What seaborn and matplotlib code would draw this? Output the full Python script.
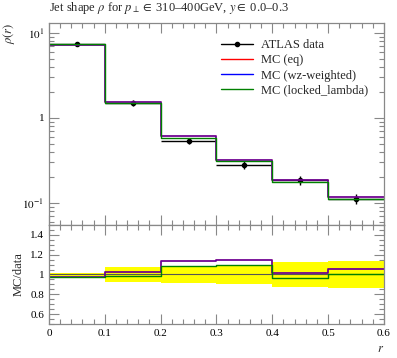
import numpy as np
import pandas as pd
import seaborn as sns
import matplotlib.pyplot as plt
from matplotlib.lines import Line2D
from matplotlib.ticker import MultipleLocator, FixedLocator, FixedFormatter, LogLocator, NullFormatter

sns.set_theme(style='ticks')
plt.rcParams['font.family'] = ['Liberation Serif', 'DejaVu Serif']
plt.rcParams['mathtext.fontset'] = 'stix'

# bins in r
edges = [0.0, 0.1, 0.2, 0.3, 0.4, 0.5, 0.6]
data_rho = [7.5, 1.51, 0.54, 0.28, 0.185, 0.112]
data_relerr = [0.02, 0.078, 0.09, 0.098, 0.128, 0.135]
ratio_eq = [0.973, 1.03, 1.135, 1.15, 1.017, 1.058]
ratio_wz = [0.973, 1.03, 1.135, 1.15, 1.017, 1.058]
ratio_locked = [0.978, 0.98, 1.09, 1.10, 0.966, 1.0]

series = [('MC (eq)', ratio_eq, 'red', 1.1, 1.0),
          ('MC (wz-weighted)', ratio_wz, 'blue', 1.1, 0.65),
          ('MC (locked_lambda)', ratio_locked, 'green', 1.0, 1.0)]

edges = np.array(edges)
centers = 0.5 * (edges[:-1] + edges[1:])
data_rho = np.array(data_rho)
data_relerr = np.array(data_relerr)

fig = plt.figure(figsize=(3.97, 3.58), dpi=100)
ax = fig.add_axes([0.1234, 0.3715, 0.8438, 0.5643])
rax = fig.add_axes([0.1234, 0.095, 0.8438, 0.2765], sharex=ax)

# ratio band from data uncertainty
lo = np.append(1 - data_relerr, 1 - data_relerr[-1])
hi = np.append(1 + data_relerr, 1 + data_relerr[-1])
rax.fill_between(edges, lo, hi, step='post', color='yellow', lw=0)
rax.axhline(1.0, color='#555555', lw=0.8)

for name, ratio, col, lw, alpha in series:
    vals = data_rho * np.array(ratio)
    df = pd.DataFrame({'r': edges, 'rho': np.append(vals, vals[-1])})
    sns.lineplot(data=df, x='r', y='rho', ax=ax, color=col, lw=lw, alpha=alpha,
                 drawstyle='steps-post', estimator=None, legend=False)
    rdf = pd.DataFrame({'r': edges, 'ratio': np.append(ratio, ratio[-1])})
    sns.lineplot(data=rdf, x='r', y='ratio', ax=rax, color=col, lw=lw, alpha=alpha,
                 drawstyle='steps-post', estimator=None, legend=False)

ax.errorbar(centers, data_rho, xerr=0.05, yerr=data_rho * data_relerr,
            fmt='o', ms=3, color='black', lw=1, capsize=0, zorder=1)

ax.set_yscale('log')
ax.set_xlim(0, 0.6)
ax.set_ylim(0.055, 13.1)
rax.set_ylim(0.5, 1.5)

ax.yaxis.set_major_locator(FixedLocator([0.1, 1, 10]))
ax.yaxis.set_major_formatter(FixedFormatter(['$10^{-1}$', '1', '$10^{1}$']))
ax.yaxis.set_minor_locator(LogLocator(subs=np.arange(2, 10)))
ax.yaxis.set_minor_formatter(NullFormatter())

rax.xaxis.set_major_locator(MultipleLocator(0.1))
rax.xaxis.set_minor_locator(MultipleLocator(0.02))
rax.yaxis.set_major_locator(FixedLocator([0.6, 0.8, 1.0, 1.2, 1.4]))
rax.yaxis.set_major_formatter(FixedFormatter(['0.6', '0.8', '1', '1.2', '1.4']))
rax.yaxis.set_minor_locator(MultipleLocator(0.05))
rax.set_xticks([0, 0.1, 0.2, 0.3, 0.4, 0.5, 0.6])
rax.set_xticklabels(['0', '0.1', '0.2', '0.3', '0.4', '0.5', '0.6'])

for a in (ax, rax):
    a.tick_params(which='both', direction='in', top=True, right=True,
                  colors='#888888', labelcolor='black', labelsize=8)
    a.tick_params(which='major', length=7, width=0.8)
    a.tick_params(which='minor', length=3.5, width=0.8)
    for s in a.spines.values():
        s.set_color('#888888')
        s.set_linewidth(0.9)
plt.setp(ax.get_xticklabels(), visible=False)

ax.set_xlabel('')
ax.set_ylabel(r'$\rho(r)$', loc='top', fontsize=9)
rax.set_ylabel('MC/data', fontsize=9)
rax.set_xlabel(r'$r$', loc='right', fontsize=9)

handles = [Line2D([], [], color='black', marker='o', ms=3, lw=1)]
labels = ['ATLAS data']
for name, ratio, col, lw, alpha in series:
    handles.append(Line2D([], [], color=col, lw=1))
    labels.append(name)
ax.legend(handles, labels, loc='upper right', frameon=False, fontsize=9,
          handlelength=2.6, handletextpad=0.6, labelspacing=0.25,
          bbox_to_anchor=(0.985, 0.975))

fig.text(0.1234, 0.955, r'Jet shape $\rho$ for $p_\perp \in$ 310–400GeV, $y \in$ 0.0–0.3',
         fontsize=9, ha='left', va='bottom')

fig.savefig('out.png', dpi=100)
